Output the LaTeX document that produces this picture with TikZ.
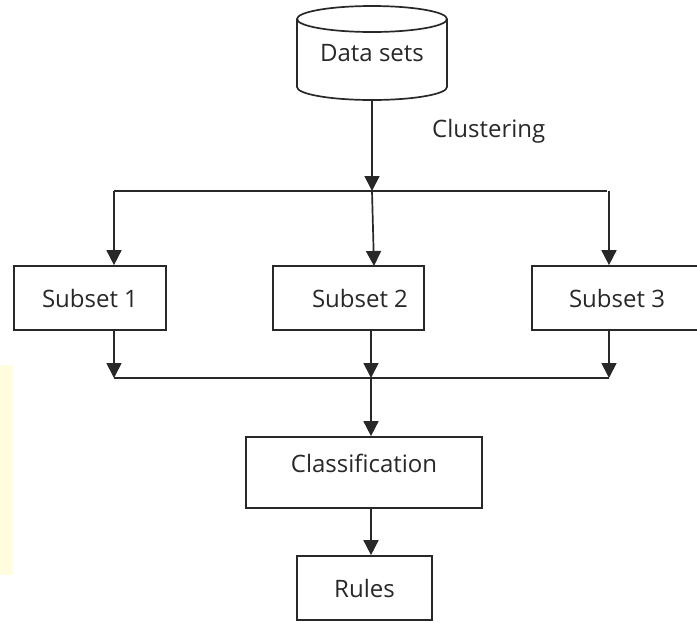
\documentclass[tikz,border=0pt]{standalone}
\usepackage{fontspec}
\setmainfont{Open Sans}
\usetikzlibrary{arrows.meta}
\definecolor{ink}{RGB}{40,40,40}
\definecolor{paleyellow}{RGB}{255,253,222}
\begin{document}
\begin{tikzpicture}[x=1pt,y=-1pt,
  line/.style={draw=ink, line width=1.7pt},
  arr/.style={line, -{Triangle[width=15pt,length=15pt]}},
  box/.style={draw=ink, line width=1.7pt, rectangle, inner sep=0pt, font=\fontsize{24}{28}\selectfont, text=ink},
  lbl/.style={font=\fontsize{24}{28}\selectfont, text=ink, inner sep=0pt}]
\useasboundingbox (0,0) rectangle (697,622);
\fill[paleyellow] (0,365) rectangle (13,575);

% cylinder
\node[lbl, minimum width=150pt, minimum height=94pt] (ds) at (372,53) {Data sets};
\draw[line] (372,19) ellipse [x radius=75, y radius=13];
\draw[line] (297,19) -- (297,87) arc[start angle=180, end angle=0, x radius=75, y radius=13] -- (447,19);

\node[lbl, anchor=base west] (cl) at (432,137) {Clustering};

% subset boxes
\node[box, minimum width=152pt, minimum height=64pt] (s1) at (90,298) {Subset 1};
\node[box, minimum width=151pt, minimum height=64pt] (s2) at (348.5,298) {};
\node[lbl] (s2t) at (360,298) {Subset 2};
\node[box, minimum width=170pt, minimum height=64pt] (s3) at (617,298) {Subset 3};

\node[box, minimum width=236pt, minimum height=71pt, text depth=18pt, text height=18pt] (cf) at (364,472.5) {Classification};
\node[box, minimum width=135pt, minimum height=64pt] (ru) at (364.5,588) {Rules};

% junctions
\coordinate (jc) at (372,191);
\coordinate (jl) at (114,191);
\coordinate (jr) at (607,191);
\coordinate (jr2) at (609,191);
\coordinate (kl) at (114,378);
\coordinate (kc) at (371,378);
\coordinate (kr) at (609,378);

\draw[arr] (ds.south) -- (jc);
\draw[line] (jl) -- (jr);
\draw[arr] (jl) -- (jl |- s1.north);
\draw[arr] (jc) -- (374,266);
\draw[arr] (jr2) -- (jr2 |- s3.north);

\draw[arr] (kl |- s1.south) -- (kl);
\draw[arr] (kc |- s2.south) -- (kc);
\draw[arr] (kr |- s3.south) -- (kr);
\draw[line] (kl) -- (kr);
\draw[arr] (kc) -- (kc |- cf.north);
\draw[arr] (cf.south -| kc) -- (kc |- ru.north);
\end{tikzpicture}
\end{document}
